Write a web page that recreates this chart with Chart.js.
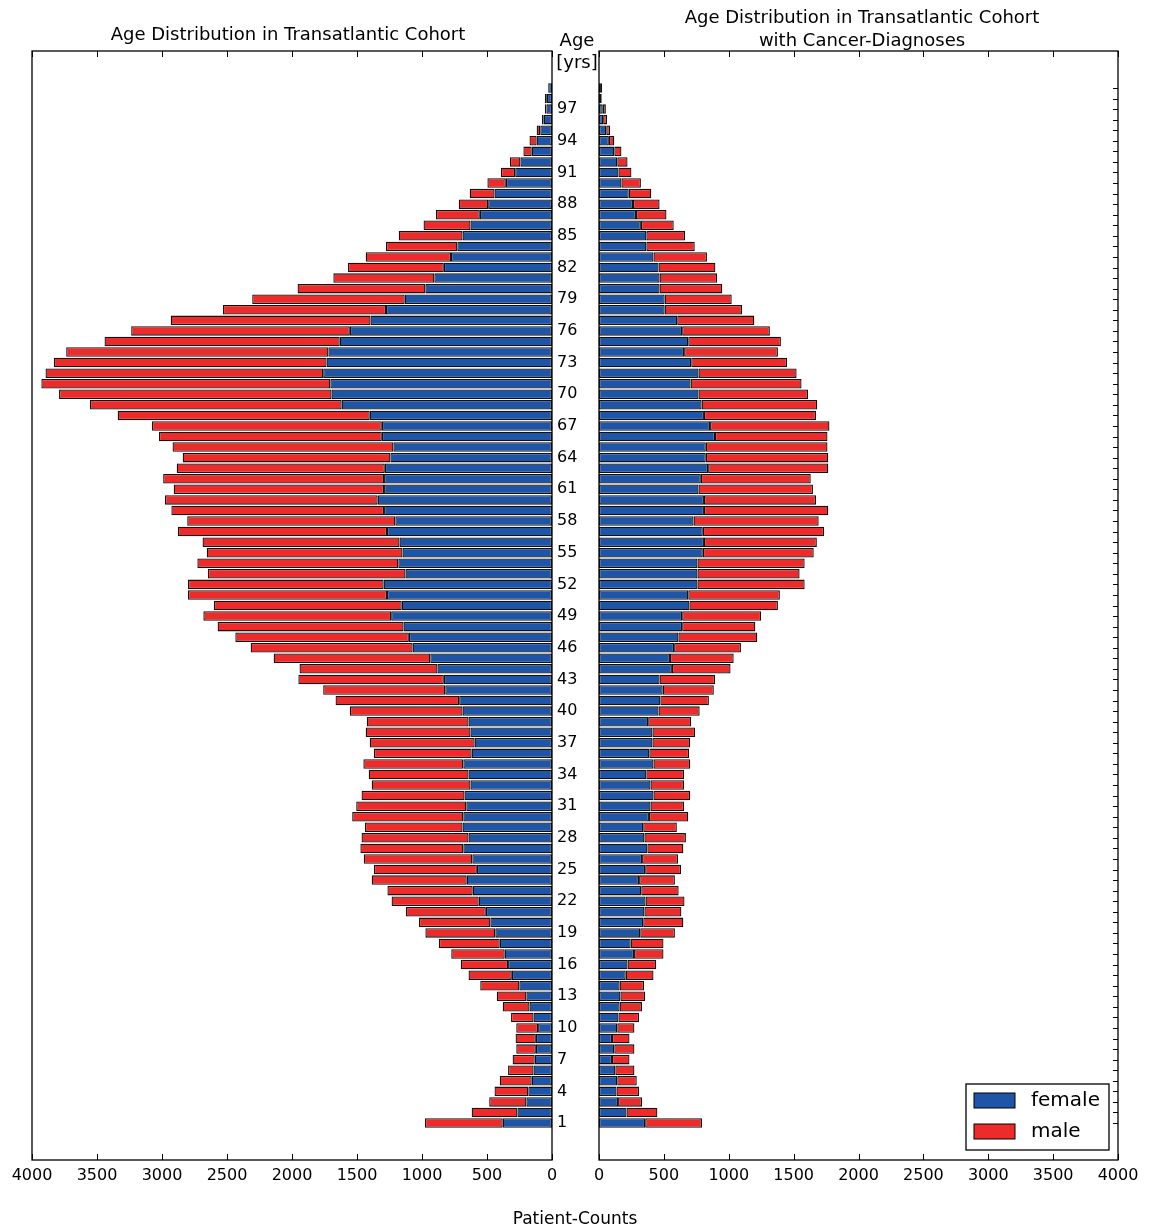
<!DOCTYPE html>
<html>
<head>
<meta charset="utf-8">
<script src="https://cdn.jsdelivr.net/npm/chart.js@4.4.1/dist/chart.umd.min.js"></script>
<style>
  html, body { margin: 0; padding: 0; background: #fff; }
  #wrap { position: relative; width: 1150px; height: 1229px; font-family: 'DejaVu Sans', sans-serif; color: #000; }
  canvas { position: absolute; top: 0; }
  #leftCanvas { left: 0; }
  #rightCanvas { left: 560px; }
  .txt { position: absolute; transform: translate(-50%, -50%); white-space: nowrap; line-height: 1; }
</style>
</head>
<body>
<div id="wrap">
  <canvas id="leftCanvas" width="600" height="1229"></canvas>
  <canvas id="rightCanvas" width="590" height="1229"></canvas>
  <div class="txt" style="left:288px;top:34px;font-size:18px">Age Distribution in Transatlantic Cohort</div>
  <div class="txt" style="left:862px;top:17px;font-size:18px">Age Distribution in Transatlantic Cohort</div>
  <div class="txt" style="left:862px;top:40px;font-size:18px">with Cancer-Diagnoses</div>
  <div class="txt" style="left:577px;top:40px;font-size:18px">Age</div>
  <div class="txt" style="left:577px;top:62px;font-size:18px">[yrs]</div>
  <div class="txt" style="left:575px;top:1218px;font-size:17px">Patient-Counts</div>
</div>
<script>
// ── Data ─────────────────────────────────────────────────────
const ages = Array.from({ length: 99 }, (_, i) => i + 1);   // 1 … 99
const ageTicks = [1, 4, 7, 10, 13, 16, 19, 22, 25, 28, 31, 34, 37, 40, 43, 46, 49,
                  52, 55, 58, 61, 64, 67, 70, 73, 76, 79, 82, 85, 88, 91, 94, 97];
const countTicks = [0, 500, 1000, 1500, 2000, 2500, 3000, 3500, 4000];

// whole cohort, ages 1..99
const femaleAll = [
  379, 266, 197, 182, 156, 142, 133, 124, 124, 107,
  142, 173, 197, 251, 309, 338, 364, 402, 436, 474,
  509, 564, 610, 656, 578, 613, 682, 642, 688, 682,
  659, 673, 627, 642, 682, 618, 595, 627, 642, 688,
  714, 821, 832, 881, 936, 1072, 1101, 1142, 1237, 1156,
  1269, 1295, 1127, 1182, 1150, 1173, 1269, 1205, 1292, 1341,
  1292, 1292, 1286, 1243, 1220, 1309, 1309, 1402, 1618, 1696,
  1705, 1760, 1734, 1720, 1633, 1555, 1396, 1277, 1133, 974,
  905, 832, 777, 728, 688, 627, 555, 491, 442, 355,
  283, 243, 156, 118, 90, 64, 43, 40, 29
];
const maleAll = [
  598, 352, 286, 260, 246, 196, 170, 151, 156, 168,
  173, 206, 228, 301, 333, 364, 411, 468, 538, 549,
  615, 670, 656, 731, 792, 835, 792, 823, 751, 855,
  847, 792, 760, 768, 769, 752, 807, 806, 783, 867,
  951, 939, 1119, 1061, 1205, 1246, 1335, 1430, 1445, 1445,
  1531, 1505, 1520, 1546, 1506, 1515, 1609, 1601, 1636, 1636,
  1618, 1699, 1601, 1598, 1699, 1714, 1769, 1939, 1937, 2096,
  2223, 2136, 2098, 2017, 1809, 1682, 1537, 1255, 1173, 983,
  777, 737, 656, 549, 491, 361, 338, 226, 191, 142,
  110, 81, 64, 55, 28, 14, 12, 15, 3
];

// cohort with cancer diagnoses, ages 1..99
const femaleCancer = [
  356, 212, 147, 135, 141, 126, 100, 118, 100, 141,
  150, 159, 165, 159, 206, 220, 270, 244, 318, 341,
  350, 359, 326, 309, 356, 332, 373, 350, 341, 385,
  397, 420, 397, 365, 420, 388, 412, 412, 379, 459,
  473, 491, 467, 562, 547, 579, 612, 641, 641, 697,
  688, 759, 759, 759, 800, 809, 800, 729, 809, 809,
  767, 785, 841, 823, 823, 894, 856, 809, 791, 767,
  706, 767, 711, 656, 688, 641, 603, 506, 506, 467,
  467, 459, 420, 365, 365, 323, 285, 262, 229, 173,
  150, 141, 118, 76, 56, 32, 29, 18, 15
];
const maleCancer = [
  438, 238, 185, 174, 150, 147, 135, 155, 135, 132,
  159, 173, 191, 188, 214, 221, 227, 253, 267, 309,
  285, 300, 288, 276, 276, 277, 277, 320, 259, 303,
  259, 283, 259, 291, 283, 306, 291, 329, 332, 317,
  374, 394, 427, 452, 491, 515, 608, 564, 609, 682,
  706, 826, 787, 826, 855, 870, 935, 964, 958, 864,
  882, 847, 926, 944, 938, 867, 920, 864, 891, 844,
  855, 756, 738, 723, 714, 676, 594, 597, 517, 483,
  444, 438, 412, 373, 299, 253, 235, 205, 174, 150,
  100, 79, 55, 42, 29, 30, 24, 6, 9
];

const BLUE = '#1f55a6';
const RED = '#ee2b2b';

Chart.defaults.font.family = "'DejaVu Sans', sans-serif";
Chart.defaults.color = '#000';

// ── Plugins ──────────────────────────────────────────────────
// box around plot area + inward ticks (matplotlib classic look)
const framePlugin = {
  id: 'frame',
  afterDraw(chart, args, opts) {
    const { ctx, chartArea: a, scales } = chart;
    ctx.save();
    ctx.strokeStyle = '#000';
    ctx.lineWidth = 1.3;
    ctx.strokeRect(a.left, a.top, a.width, a.height);
    ctx.beginPath();
    ctx.lineWidth = 1;
    countTicks.forEach(v => {
      const px = Math.round(scales.x.getPixelForValue(v)) + 0.5;
      ctx.moveTo(px, a.top); ctx.lineTo(px, a.top + 6);
      ctx.moveTo(px, a.bottom); ctx.lineTo(px, a.bottom - 6);
    });
    if (opts.ageTicks) {
      ages.forEach(v => {
        const py = Math.round(scales.y.getPixelForValue(v)) + 0.5;
        ctx.moveTo(a.right, py); ctx.lineTo(a.right - 5, py);
      });
    }
    ctx.stroke();
    ctx.restore();
  }
};

// legend box in the lower right corner of the right panel
const boxLegend = {
  id: 'boxLegend',
  afterDraw(chart, args, opts) {
    if (!opts.show) return;
    const { ctx, chartArea: a } = chart;
    const x0 = a.right - 152, y0 = a.bottom - 76, w = 143, h = 66;
    ctx.save();
    ctx.fillStyle = '#fff';
    ctx.fillRect(x0, y0, w, h);
    ctx.strokeStyle = '#000';
    ctx.lineWidth = 1.3;
    ctx.strokeRect(x0, y0, w, h);
    ctx.font = "20px 'DejaVu Sans', sans-serif";
    ctx.textBaseline = 'middle';
    chart.data.datasets.forEach((ds, i) => {
      const cy = y0 + 17 + i * 31;
      ctx.fillStyle = ds.backgroundColor;
      ctx.fillRect(x0 + 8, cy - 8, 41, 15);
      ctx.lineWidth = 1;
      ctx.strokeRect(x0 + 8, cy - 8, 41, 15);
      ctx.fillStyle = '#000';
      ctx.fillText(ds.label, x0 + 65, cy);
    });
    ctx.restore();
  }
};

// ── Chart builder ────────────────────────────────────────────
function pyramid(canvasId, female, male, side) {
  const left = side === 'left';
  return new Chart(document.getElementById(canvasId), {
    type: 'bar',
    data: {
      datasets: [
        { label: 'female', data: ages.map((a, i) => ({ x: female[i], y: a })),
          backgroundColor: BLUE, borderColor: '#111', borderWidth: 1.3, borderSkipped: false },
        { label: 'male', data: ages.map((a, i) => ({ x: male[i], y: a })),
          backgroundColor: RED, borderColor: '#111', borderWidth: 1.3, borderSkipped: false },
      ]
    },
    plugins: [framePlugin, boxLegend],
    options: {
      indexAxis: 'y',
      responsive: false,
      animation: false,
      categoryPercentage: 1,
      barPercentage: 0.9,
      layout: { padding: left ? { left: 32, top: 51, right: 0, bottom: 0 }
                              : { left: 39, top: 51, right: 32, bottom: 0 } },
      plugins: {
        legend: { display: false },
        tooltip: { enabled: false },
        frame: { ageTicks: !left },
        boxLegend: { show: !left }
      },
      scales: {
        x: {
          type: 'linear', stacked: true, reverse: left,
          min: 0, max: 4000,
          grid: { display: false, drawTicks: false },
          border: { display: false },
          ticks: { stepSize: 500, padding: 6, maxRotation: 0, autoSkip: false,
                   font: { size: 16 }, callback: v => String(v) },
          afterFit: s => { s.height = 69; }
        },
        y: {
          type: 'linear', stacked: true, offset: false,
          display: left,
          position: 'right',
          min: -2.5, max: 102.5,
          grid: { display: false, drawTicks: false, offset: false },
          border: { display: false },
          afterBuildTicks: s => { s.ticks = ageTicks.map(v => ({ value: v })); },
          ticks: { autoSkip: false, padding: 5, crossAlign: 'near', font: { size: 16 } },
          afterFit: s => { if (left) s.width = 48; }
        }
      }
    }
  });
}

pyramid('leftCanvas', femaleAll, maleAll, 'left');
pyramid('rightCanvas', femaleCancer, maleCancer, 'right');
</script>
</body>
</html>
